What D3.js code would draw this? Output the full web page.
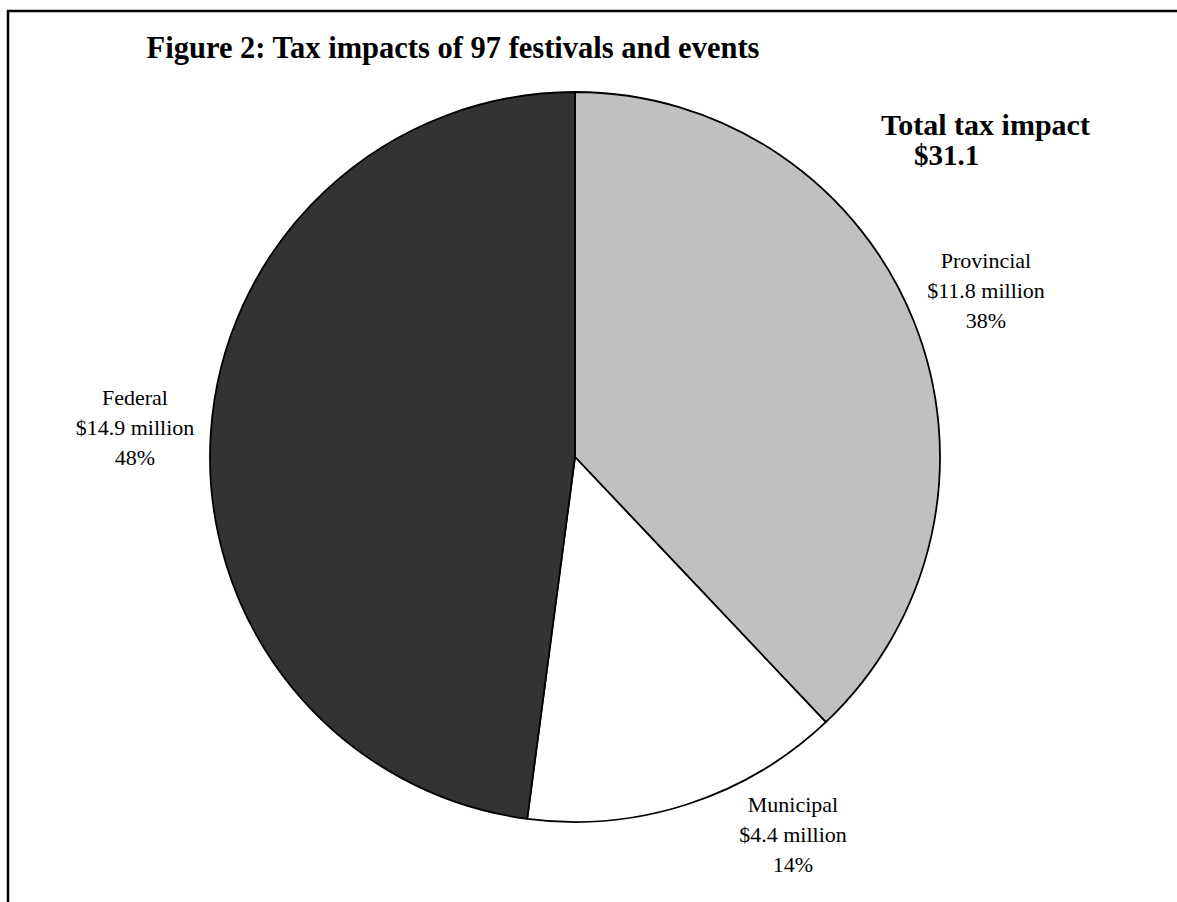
<!DOCTYPE html>
<html>
<head>
<meta charset="utf-8">
<script src="https://cdn.jsdelivr.net/npm/d3@7"></script>
<style>
  body { margin: 0; background: #fff; }
  svg { display: block; }
  text { font-family: "Liberation Serif", "DejaVu Serif", serif; fill: #000; }
</style>
</head>
<body>
<div class="svg-container"></div>
<script>
// data
const categories = ['Provincial', 'Municipal', 'Federal']
const values = [11.8, 4.4, 14.9]
const percents = ['38%', '14%', '48%']
const colors = ['#c0c0c0', '#ffffff', '#333333']
const title = 'Figure 2: Tax impacts of 97 festivals and events'
const totalLabel = ['Total tax impact', '$31.1']

const width = 1177
const height = 902
const cx = 575, cy = 457, radius = 365

const svg = d3.select('.svg-container').append('svg')
    .attr('width', width)
    .attr('height', height)

// frame (top and left only)
svg.append('line')
    .attr('x1', 7).attr('x2', width).attr('y1', 11).attr('y2', 11)
    .attr('stroke', '#000').attr('stroke-width', 2.5)
svg.append('line')
    .attr('x1', 8).attr('x2', 8).attr('y1', 10).attr('y2', height)
    .attr('stroke', '#000').attr('stroke-width', 2.5)

svg.append('text')
    .attr('x', 453).attr('y', 58)
    .attr('text-anchor', 'middle')
    .style('font-size', '30.5px').style('font-weight', 'bold')
    .text(title)

const pieData = categories.map((c, i) => ({ name: c, value: values[i], pct: percents[i], color: colors[i] }))

const pie = d3.pie().sort(null).value(d => d.value)
const arc = d3.arc().innerRadius(0).outerRadius(radius)

const g = svg.append('g').attr('transform', `translate(${cx},${cy})`)

g.selectAll('path')
    .data(pie(pieData))
    .enter()
    .append('path')
    .attr('d', arc)
    .attr('fill', d => d.data.color)
    .attr('stroke', '#000')
    .attr('stroke-width', 1.8)
    .attr('stroke-linejoin', 'round')

// label anchors (centre x, first baseline)
const labelPos = {
    Provincial: [986, 268],
    Municipal: [793, 812],
    Federal: [135, 405]
}

pieData.forEach(d => {
    const [lx, ly] = labelPos[d.name]
    const t = svg.append('text')
        .attr('text-anchor', 'middle')
        .style('font-size', '22px')
    const lines = [d.name, `$${d.value} million`, d.pct]
    lines.forEach((l, i) => {
        t.append('tspan')
            .attr('x', lx)
            .attr('y', ly + i * 30)
            .text(l)
    })
})

svg.append('text')
    .attr('x', 881).attr('y', 135)
    .style('font-size', '30px').style('font-weight', 'bold')
    .text(totalLabel[0])
svg.append('text')
    .attr('x', 914).attr('y', 165)
    .style('font-size', '29px').style('font-weight', 'bold')
    .text(totalLabel[1])
</script>
</body>
</html>
